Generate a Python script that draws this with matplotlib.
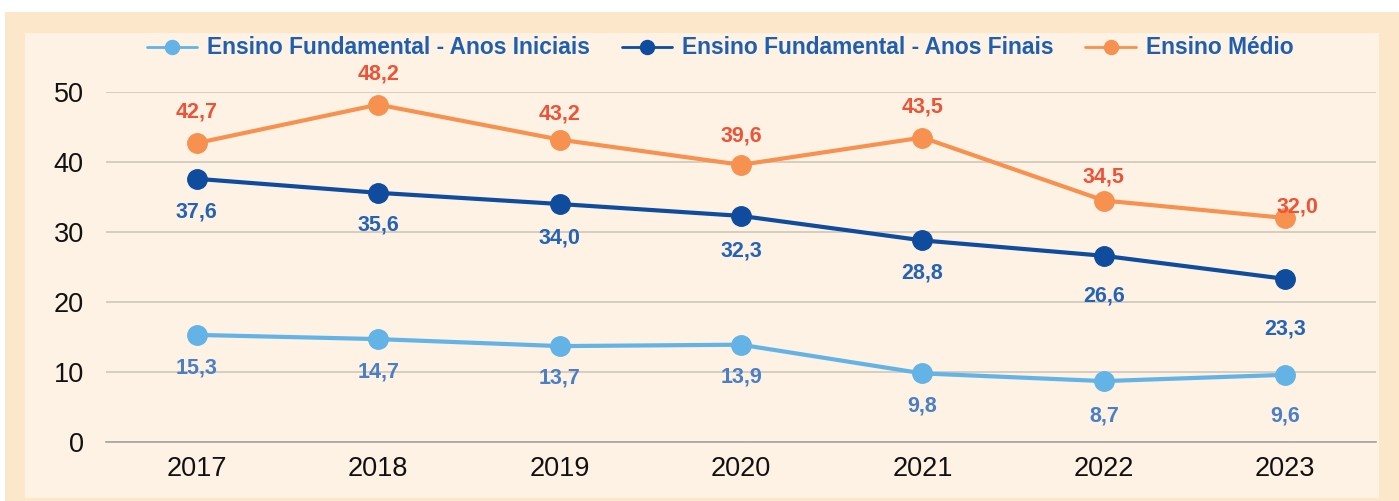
import matplotlib.pyplot as plt
from matplotlib.patches import Rectangle
from matplotlib import rcParams

rcParams['font.family'] = ['Liberation Sans', 'DejaVu Sans']

years = ['2017', '2018', '2019', '2020', '2021', '2022', '2023']
anos_iniciais = [15.3, 14.7, 13.7, 13.9, 9.8, 8.7, 9.6]
anos_finais = [37.6, 35.6, 34.0, 32.3, 28.8, 26.6, 23.3]
ensino_medio = [42.7, 48.2, 43.2, 39.6, 43.5, 34.5, 32.0]
series_names = ['Ensino Fundamental - Anos Iniciais',
                'Ensino Fundamental - Anos Finais',
                'Ensino Médio']

# ── Figure & background frame ───────────────────────────────────────────────
fig = plt.figure(figsize=(13.99, 5.01), dpi=100, facecolor='white')
W, H = 1399, 501
fig.patches.append(Rectangle((5 / W, 0), 1 - 5 / W, 1 - 12 / H,
                             transform=fig.transFigure, facecolor='#FCE7CB',
                             edgecolor='none', zorder=-2))
fig.patches.append(Rectangle((25 / W, 3 / H), 1354 / W, 1 - 36 / H,
                             transform=fig.transFigure, facecolor='#FDF2E3',
                             edgecolor='none', zorder=-1))

ax = fig.add_axes([106 / W, 59 / H, 1270 / W, 350 / H])
ax.set_facecolor('none')

x = list(range(len(years)))
line_colors = ['#63B3E6', '#0F4C9E', '#F79150']
label_colors = ['#4A7FC6', '#2563B5', '#EE5338']
all_series = [anos_iniciais, anos_finais, ensino_medio]

for vals, lc, name in zip(all_series, line_colors, series_names):
    ax.plot(x, vals, color=lc, lw=3.0, marker='o', ms=14, label=name,
            solid_capstyle='round', zorder=3, clip_on=False)

# label offsets in pixels
off_ini = [-33, -33, -32, -32, -33, -35, -41]
off_fin = [-33, -32, -34, -35, -33, -40, -50]
off_med = [31, 31, 26, 29, 31, 24, 11]
dx_med = [0, 0, 0, 0, 0, 0, 12]

lbl = dict(textcoords='offset points', ha='center', va='center',
           fontsize=15.5, fontweight='bold', zorder=4)
for i in x:
    ax.annotate(f'{anos_iniciais[i]:.1f}'.replace('.', ','), (i, anos_iniciais[i]),
                xytext=(0, off_ini[i] * 0.72), color=label_colors[0], **lbl)
    ax.annotate(f'{anos_finais[i]:.1f}'.replace('.', ','), (i, anos_finais[i]),
                xytext=(0, off_fin[i] * 0.72), color=label_colors[1], **lbl)
    ax.annotate(f'{ensino_medio[i]:.1f}'.replace('.', ','), (i, ensino_medio[i]),
                xytext=(dx_med[i] * 0.72, off_med[i] * 0.72),
                color=label_colors[2], **lbl)

ax.set_xlim(-0.5, len(years) - 0.5)
ax.set_ylim(0, 50)
ax.set_yticks([0, 10, 20, 30, 40, 50])
ax.set_xticks(x)
ax.set_xticklabels(years)
ax.tick_params(axis='both', length=0, labelsize=19.5, colors='#111111')
ax.tick_params(axis='x', pad=10)
ax.tick_params(axis='y', pad=16)
ax.grid(axis='y', color='#D3CBBF', lw=1.3, zorder=1)
ax.set_axisbelow(True)
for s in ['top', 'right', 'left']:
    ax.spines[s].set_visible(False)
ax.spines['bottom'].set_color('#A8A39C')
ax.spines['bottom'].set_linewidth(1.2)

leg = fig.legend(loc='center', bbox_to_anchor=(720 / W, 1 - 48 / H), ncol=3,
                 frameon=False, handlelength=2.2, markerscale=0.72,
                 columnspacing=1.4, handletextpad=0.45,
                 prop={'weight': 'bold', 'size': 16.4})
for t in leg.get_texts():
    t.set_color('#1F5FAD')
for h in leg.legend_handles:
    h.set_linewidth(2)

fig.savefig('out.png', dpi=100, facecolor='white')
